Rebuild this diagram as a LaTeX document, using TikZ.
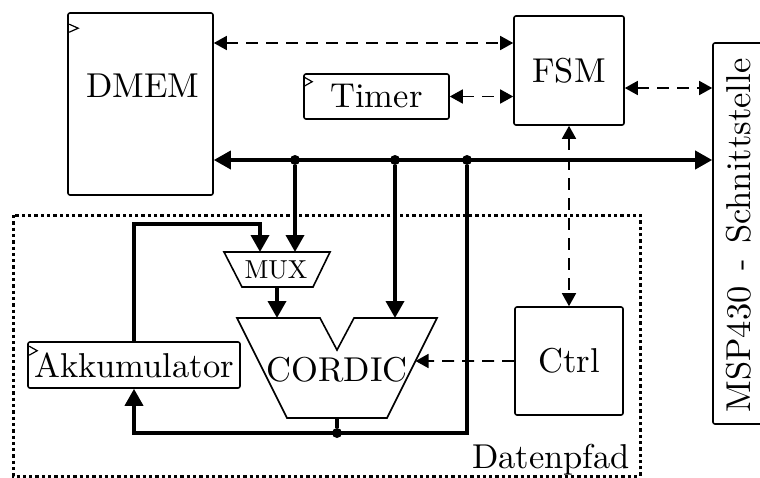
\documentclass[tikz,border=0pt]{standalone}
\usetikzlibrary{arrows.meta,calc}
% Latin Modern Roman, 10pt design, scaled up
\font\bigrm="[lmroman10-regular]" at 34.5pt
\font\midrm="[lmroman10-regular]" at 26pt
\begin{document}
\begin{tikzpicture}[x=1pt,y=-1pt,
  blk/.style={draw, line width=1.6pt, rounded corners=2pt, inner sep=0pt},
  big/.style={font=\bigrm},
  txt/.style={big, inner sep=0pt, anchor=base},
  thick line/.style={line width=3.6pt},
  bus/.style={thick line, -{Triangle[length=17pt,width=18pt]}},
  dbus/.style={thick line, {Triangle[length=17pt,width=18pt]}-{Triangle[length=17pt,width=18pt]}},
  ctl/.style={line width=1.6pt, dash pattern=on 12pt off 8pt, -{Triangle[length=13pt,width=14pt]}},
  dctl/.style={ctl, {Triangle[length=13pt,width=14pt]}-{Triangle[length=13pt,width=14pt]}},
  joint/.style={circle, fill, inner sep=0pt, minimum size=10pt},
  clk/.style={line width=1.2pt},
  frame/.style={line width=3pt, dash pattern=on 3.3pt off 3pt},
]
\useasboundingbox (0,0) rectangle (760,477);

% datapath frame
\draw[frame] (13,215) rectangle (640,476);
\node[txt, anchor=base east] (dplabel) at (630,468) {Datenpfad};

% blocks
\node[blk, minimum width=145pt, minimum height=182pt] (dmem) at (140.5,104) {};
\node[txt] (dmemtxt) at (143,97) {DMEM};
\node[blk, big, minimum width=110pt, minimum height=109pt] (fsm) at (569,70.5) {FSM};
\node[blk, big, minimum width=145pt, minimum height=45pt] (timer) at (376.5,96.5) {Timer};
\node[blk, big, minimum width=108pt, minimum height=108pt] (ctrl) at (569,361) {Ctrl};
\node[blk, big, minimum width=212pt, minimum height=46pt] (akk) at (134,365) {Akkumulator};
\node[blk, minimum width=90pt, minimum height=381pt] (msp) at (758,233.5) {};
\node[big, inner sep=0pt, rotate=90, anchor=base] (msptxt) at (750,235.5)
  {MSP430\hspace{4pt} - \hspace{4pt}Schnittstelle};

% clock marks
\draw[clk] ($(dmem.north west)+(2,12)$) -- ++(9,4) -- ++(-9,4);
\draw[clk] ($(timer.north west)+(1,4)$) -- ++(8,4.5) -- ++(-8,4.5);
\draw[clk] ($(akk.north west)+(2,5)$) -- ++(8,4.5) -- ++(-8,4.5);

% multiplexer
\draw[line width=1.6pt] (224,252) -- (330,252) -- (313,287) -- (242,287) -- cycle;
\node[font=\midrm, inner sep=0pt, anchor=base] (mux) at (276,278) {MUX};
\coordinate (muxa) at (260,252);
\coordinate (muxb) at (295,252);
\coordinate (muxo) at (277,287);

% CORDIC unit
\draw[line width=1.6pt] (237,318) -- (320,318) -- (337,350) -- (354,318) -- (437,318)
  -- (387,418) -- (287,418) -- cycle;
\node[txt] (cordic) at (337,381) {CORDIC};
\coordinate (cin) at (277,318);
\coordinate (cin2) at (395,318);
\coordinate (cout) at (337,418);
\coordinate (cctl) at ($(437,318)!0.43!(387,418)$);

% system bus
\node[joint] (j1) at (295,160) {};
\node[joint] (j2) at (395,160) {};
\node[joint] (j3) at (467,160) {};
\node[joint] (j4) at (337,433) {};
\draw[dbus] (dmem.east |- j1) -- (msp.west |- j1);
\draw[bus] (j1) -- (muxb);
\draw[bus] (j2) -- (cin2);
\draw[bus] (j3) |- (akk.south |- j4) -- (akk.south);
\draw[thick line] (cout) -- (j4);
\coordinate (loop) at (muxa |- 0,224);
\draw[bus] (akk.north) |- (loop) -- (muxa);
\draw[bus] (muxo) -- (cin);

% control signals
\draw[dctl] (dmem.east |- 0,43) -- (fsm.west |- 0,43);
\draw[dctl] (timer.east) -- (fsm.west |- timer.east);
\draw[dctl] (fsm.east |- 0,88) -- (msp.west |- 0,88);
\draw[dctl] (fsm.south) -- (ctrl.north);
\draw[ctl] (ctrl.west) -- (cctl);
\end{tikzpicture}
\end{document}
